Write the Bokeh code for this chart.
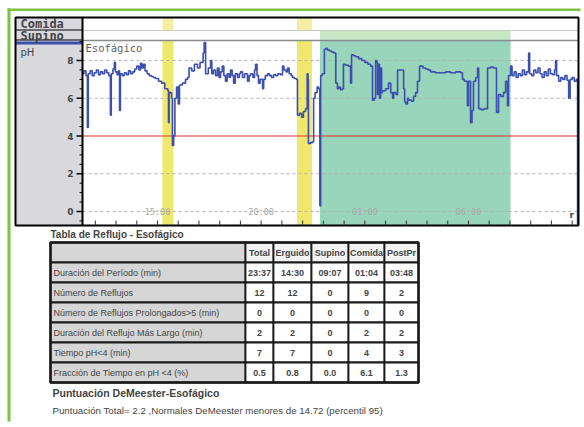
from bokeh.plotting import figure
from bokeh.models import Range1d, Label
from bokeh.embed import file_html
from bokeh.resources import INLINE

# ---------------- data ----------------
ph_time = [11.38, 11.45, 11.55, 11.62, 11.66, 11.75, 11.85, 11.95, 12.05, 12.15, 12.25, 12.35, 12.45,
           12.55, 12.65, 12.73, 12.77, 12.85, 12.92, 12.97, 13.05, 13.12, 13.17, 13.21, 13.30, 13.40,
           13.50, 13.60, 13.70, 13.80, 13.90, 14.00, 14.10, 14.18, 14.25, 14.32, 14.40, 14.50, 14.60,
           14.70, 14.80, 14.90, 15.05, 15.20, 15.35, 15.50, 15.53, 15.56, 15.68, 15.72, 15.78, 15.84,
           15.92, 16.00, 16.06, 16.20, 16.35, 16.45, 16.52, 16.65, 16.78, 16.93, 17.05, 17.20, 17.25,
           17.32, 17.45, 17.56, 17.62, 17.70, 17.80, 17.89, 17.97, 18.04, 18.12, 18.20, 18.28, 18.36,
           18.45, 18.52, 18.60, 18.67, 18.75, 18.86, 18.95, 19.00, 19.10, 19.20, 19.34, 19.42, 19.49,
           19.60, 19.68, 19.73, 19.80, 19.87, 19.95, 20.07, 20.12, 20.20, 20.31, 20.40, 20.50, 20.60,
           20.70, 20.80, 20.93, 21.03, 21.10, 21.20, 21.27, 21.35, 21.45, 21.51, 21.60, 21.70, 21.75,
           21.85, 21.95, 22.04, 22.14, 22.22, 22.26, 22.28, 22.38, 22.48, 22.53, 22.60, 22.70, 22.77,
           22.83, 22.87, 22.95, 23.05, 23.12, 23.20, 23.30, 23.40, 23.50, 23.60, 23.68, 23.75, 23.83,
           23.92, 23.97, 24.07, 24.20, 24.31, 24.36, 24.45, 24.55, 24.70, 24.85, 25.00, 25.15, 25.28,
           25.37, 25.45, 25.52, 25.58, 25.61, 25.66, 25.71, 25.76, 25.81, 25.85, 26.00, 26.14, 26.25,
           26.34, 26.39, 26.50, 26.58, 26.72, 26.87, 26.92, 26.98, 27.06, 27.11, 27.25, 27.35, 27.45,
           27.54, 27.64, 27.80, 27.93, 28.05, 28.17, 28.40, 28.65, 28.90, 29.13, 29.38, 29.62, 29.71,
           29.80, 29.95, 30.00, 30.10, 30.17, 30.24, 30.35, 30.44, 30.49, 30.60, 30.75, 30.92, 31.06,
           31.20, 31.35, 31.45, 31.55, 31.69, 31.79, 31.88, 31.93, 32.03, 32.10, 32.20, 32.30, 32.40,
           32.50, 32.60, 32.70, 32.80, 32.90, 32.95, 33.05, 33.15, 33.25, 33.35, 33.45, 33.55, 33.65,
           33.75, 33.85, 33.95, 34.05, 34.15, 34.20, 34.25, 34.35, 34.45, 34.55, 34.65, 34.75, 34.83,
           34.90, 35.00, 35.10, 35.20, 35.26]
ph_value = [7.3, 7.45, 7.2, 4.45, 7.3, 7.45, 7.2, 7.35, 7.5, 7.25, 7.4, 7.3, 7.5,
            7.35, 7.2, 5.1, 7.3, 7.55, 7.9, 7.4, 7.25, 7.45, 5.35, 7.3, 7.2, 7.35,
            7.25, 7.45, 7.3, 7.4, 7.55, 7.7, 7.5, 7.85, 7.6, 7.8, 7.45, 7.3, 7.2,
            7.15, 7.1, 7.05, 6.9, 6.8, 6.5, 6.4, 4.7, 6.3, 6.0, 3.5, 4.0, 6.0,
            6.6, 5.7, 6.7, 6.8, 7.0, 7.1, 7.6, 7.45, 7.8, 7.6, 7.9, 8.4, 8.95,
            7.3, 7.6, 8.0, 7.3, 7.5, 7.2, 7.6, 7.1, 7.4, 7.7, 7.2, 6.9, 7.3,
            7.1, 7.5, 7.2, 6.8, 7.3, 7.1, 7.3, 7.4, 7.1, 7.3, 6.9, 7.2, 7.3,
            7.1, 7.5, 7.8, 7.2, 6.8, 7.0, 6.5, 7.0, 7.2, 7.3, 7.2, 7.1, 7.25,
            7.2, 7.3, 7.25, 7.7, 7.5, 7.4, 7.6, 7.3, 7.2, 7.1, 7.05, 7.0, 5.1,
            5.2, 5.0, 5.3, 5.45, 7.3, 7.0, 3.6, 3.65, 3.7, 6.0, 6.3, 6.6, 6.5,
            0.3, 7.2, 7.3, 8.6, 8.65, 8.55, 8.5, 8.45, 8.4, 6.8, 6.5, 6.6, 6.45,
            6.5, 7.8, 7.75, 7.7, 6.8, 8.3, 8.25, 8.2, 8.1, 8.0, 7.9, 7.8, 7.7,
            5.9, 6.0, 8.0, 7.9, 6.2, 7.8, 6.0, 7.6, 6.3, 6.4, 6.5, 6.8, 6.3,
            6.0, 6.3, 6.2, 7.5, 7.5, 6.5, 5.8, 5.7, 6.0, 5.9, 5.85, 6.1, 6.3,
            6.9, 7.7, 7.6, 7.55, 7.5, 7.4, 7.35, 7.35, 7.4, 7.35, 7.4, 7.35, 7.0,
            6.9, 5.6, 6.9, 4.7, 5.35, 6.9, 7.1, 7.6, 5.45, 5.4, 5.45, 7.6, 7.65,
            7.6, 5.25, 6.2, 6.1, 6.3, 6.9, 5.6, 7.2, 7.7, 7.2, 7.4, 7.1, 7.3,
            7.2, 7.5, 7.25, 7.4, 8.4, 7.3, 7.2, 7.5, 7.35, 7.6, 7.3, 7.1, 7.4,
            7.2, 7.55, 7.3, 7.25, 7.5, 8.0, 7.2, 6.9, 7.1, 7.0, 7.2, 6.95, 6.0,
            7.0, 7.1, 6.9, 7.0, -0.7]

meal_start = [15.24, 21.73]
meal_end = [15.77, 22.45]
supine_start = [22.84]
supine_end = [32.03]
acid_threshold = 4
ph_ticks = [0, 2, 4, 6, 8]
ph_minor_ticks = [-0.5, 0.5, 1, 1.5, 2.5, 3, 3.5, 4.5, 5, 5.5, 6.5, 7, 7.5, 8.5, 9]
grid_ticks = [0, 2, 6, 8]
hour_ticks = [12, 13, 14, 15, 16, 17, 18, 19, 20, 21, 22, 23, 24, 25, 26, 27, 28, 29, 30,
              31, 32, 33, 34, 35]
time_label_hours = [15, 20, 25, 30]
time_labels = ["15:00", "20:00", "01:00", "06:00"]

table_title = "Tabla de Reflujo - Esofágico"
col_labels = ["Total", "Erguido", "Supino", "Comida", "PostPr"]
row_labels = ["Duración del Período (min)", "Número de Reflujos",
              "Número de Reflujos Prolongados>5   (min)", "Duración del Reflujo Más Largo (min)",
              "Tiempo pH<4  (min)", "Fracción de Tiempo en pH <4  (%)"]
total_vals = ["23:37", "12", "0", "2", "7", "0.5"]
erguido_vals = ["14:30", "12", "0", "2", "7", "0.8"]
supino_vals = ["09:07", "0", "0", "0", "0", "0.0"]
comida_vals = ["01:04", "9", "0", "2", "4", "6.1"]
postpr_vals = ["03:48", "2", "0", "2", "3", "1.3"]
score_title = "Puntuación DeMeester-Esofágico"
score_text = "Puntuación Total= 2.2 ,Normales DeMeester menores de 14.72 (percentil 95)"

# ---------------- layout constants (page pixels) ----------------
W, H = 584, 427
PX_PER_H = 20.733
PX_PER_PH = 18.875
HOUR_REF, HOUR_REF_X = 15, 157     # 15:00 sits at x=157
PH0_Y = 211                        # pH 0 sits at y=211
BOX_L, BOX_R, BOX_T, BOX_B = 15, 578, 17, 225
PLOT_L = 82
ROW_SPLIT_Y, PLOT_TOP_Y = 30, 40


def hour_at(px):
    return HOUR_REF + (px - HOUR_REF_X) / PX_PER_H


def ph_at(py):
    return (PH0_Y - py) / PX_PER_PH


GREEN_FRAME = "#7dc243"
PANEL = "#d9d9dd"
TRACE = "#3b4fb0"
YELLOW = "#efe86c"
YELLOW_PALE = "#f3eea4"
GREEN_BAND = "#98d5ba"
GREEN_PALE = "#c6e6c4"
FONT = "Liberation Sans"

p = figure(width=W, height=H, x_range=Range1d(hour_at(0), hour_at(W)),
           y_range=Range1d(ph_at(H), ph_at(0)),
           x_axis_location=None, y_axis_location=None,
           output_backend="svg", toolbar_location=None, min_border=0,
           outline_line_color=None, background_fill_color="white", border_fill_color="white")
p.grid.visible = False
p.extra_x_ranges = {"px": Range1d(0, W)}
p.extra_y_ranges = {"px": Range1d(H, 0)}
PX = dict(x_range_name="px", y_range_name="px")

# green page frame
p.quad(left=[7, 7], right=[10, 580], top=[8, 8], bottom=[421, 10.5], fill_color=GREEN_FRAME,
       line_color=None, **PX)

# left grey panel
p.quad(left=[BOX_L], right=[PLOT_L], top=[BOX_T], bottom=[BOX_B], fill_color=PANEL, line_color=None, **PX)

# bands (data)
yb, yt, ys = ph_at(BOX_B), ph_at(PLOT_TOP_Y), ph_at(ROW_SPLIT_Y)
p.quad(left=meal_start, right=meal_end, bottom=yb, top=yt, fill_color=YELLOW, line_color=None)
p.quad(left=meal_start, right=meal_end, bottom=ys, top=ph_at(BOX_T), fill_color=YELLOW_PALE, line_color=None)
p.quad(left=supine_start, right=supine_end, bottom=yb, top=yt, fill_color=GREEN_BAND, line_color=None)
p.quad(left=supine_start, right=supine_end, bottom=yt, top=ys, fill_color=GREEN_PALE, line_color=None)

# grid, threshold and row lines
p.segment(x0=PLOT_L, x1=BOX_R, y0=grid_ticks, y1=grid_ticks, line_color="#b4b4b4",
          line_dash="3 3", line_width=1, x_range_name="px")
p.segment(x0=[PLOT_L], x1=[BOX_R], y0=[acid_threshold], y1=[acid_threshold], line_color="#e0302a",
          line_width=1.2, x_range_name="px")
p.segment(x0=[PLOT_L], x1=[BOX_R], y0=[ROW_SPLIT_Y], y1=[ROW_SPLIT_Y], line_color="#c8c8c8",
          line_width=1, **PX)
p.segment(x0=[PLOT_L], x1=[BOX_R], y0=[PLOT_TOP_Y], y1=[PLOT_TOP_Y], line_color="#8c8c8c",
          line_width=1.5, **PX)
p.segment(x0=[BOX_L, BOX_L], x1=[PLOT_L, PLOT_L], y0=[ROW_SPLIT_Y - 0.5, PLOT_TOP_Y - 0.5],
          y1=[ROW_SPLIT_Y - 0.5, PLOT_TOP_Y - 0.5], line_color="black", line_width=1.2, **PX)
p.quad(left=[BOX_L], right=[PLOT_L], top=[41], bottom=[44], fill_color=TRACE, line_color=None, **PX)

# trace
p.step(ph_time, ph_value, mode="after", line_color=TRACE, line_width=1.6)

# chart box + y axis line
p.quad(left=[BOX_L], right=[BOX_R], top=[BOX_T], bottom=[BOX_B], fill_color=None,
       line_color="black", line_width=2, **PX)
p.segment(x0=[PLOT_L], x1=[PLOT_L], y0=[BOX_T], y1=[BOX_B], line_color="black", line_width=2, **PX)

# y ticks
p.segment(x0=PLOT_L - 6, x1=PLOT_L, y0=ph_ticks, y1=ph_ticks, line_color="black", line_width=1.5,
          x_range_name="px")
p.segment(x0=PLOT_L - 3, x1=PLOT_L, y0=ph_minor_ticks, y1=ph_minor_ticks, line_color="black",
          line_width=1, x_range_name="px")
for t in ph_ticks:
    p.add_layout(Label(x=PLOT_L - 9, y=t, x_range_name="px", text=str(t), text_font="DejaVu Sans",
                       text_font_style="bold", text_font_size="9px", text_align="right",
                       text_baseline="middle"))

# x ticks (inside, at the bottom)
p.segment(x0=hour_ticks, x1=hour_ticks, y0=BOX_B, y1=BOX_B - 5, line_color="#333333", line_width=1,
          y_range_name="px")
for hh, lab in zip(time_label_hours, time_labels):
    p.add_layout(Label(x=hh, y=0, text=lab, text_font="DejaVu Sans Mono", text_font_size="8.5px",
                       text_color="#a8a8a8", text_align="center", text_baseline="middle"))

# panel texts
for txt, yy in (("Comida", 23.5), ("Supino", 35)):
    p.add_layout(Label(x=20, y=yy, text=txt, text_font="DejaVu Sans Mono", text_font_style="bold",
                       text_font_size="12px", text_baseline="middle", **PX))
p.add_layout(Label(x=20, y=52, text="pH", text_font="DejaVu Sans", text_font_size="10px",
                   text_baseline="middle", **PX))
p.add_layout(Label(x=85, y=47, text="Esofágico", text_font="DejaVu Sans Mono", text_font_size="10.5px",
                   text_color="#606060", text_baseline="middle", **PX))
p.add_layout(Label(x=569, y=214, text="r", text_font="DejaVu Sans", text_font_size="9px",
                   text_font_style="bold", text_baseline="middle", **PX))

# ---------------- table ----------------
col_edges = [50, 245, 273, 311, 348, 384, 418]
row_edges = [242, 262, 282, 302, 322, 342, 362, 382]
columns = [total_vals, erguido_vals, supino_vals, comida_vals, postpr_vals]

lefts, rights, tops, bottoms, fills = [], [], [], [], []
for i in range(len(row_edges) - 1):
    for j in range(len(col_edges) - 1):
        lefts.append(col_edges[j]); rights.append(col_edges[j + 1])
        tops.append(row_edges[i]); bottoms.append(row_edges[i + 1])
        if j == 0:
            fills.append("#d6d6d6")
        elif i == 0:
            fills.append("#f2f2f2")
        else:
            fills.append("white")
p.quad(left=lefts, right=rights, top=tops, bottom=bottoms, fill_color=fills,
       line_color="#1a1a1a", line_width=1.8, **PX)
p.quad(left=[col_edges[0]], right=[col_edges[-1]], top=[row_edges[0]], bottom=[row_edges[-1]],
       fill_color=None, line_color="#1a1a1a", line_width=2.5, **PX)


def cell_label(x, y, text, bold=False, align="center", size="9px"):
    p.add_layout(Label(x=x, y=y, text=text, text_font=FONT, text_font_size=size,
                       text_font_style="bold" if bold else "normal", text_align=align,
                       text_baseline="middle", **PX))


for j, lab in enumerate(col_labels):
    cell_label((col_edges[j + 1] + col_edges[j + 2]) / 2, (row_edges[0] + row_edges[1]) / 2, lab, bold=True)
for j, col in enumerate(columns):
    for i, v in enumerate(col):
        cell_label((col_edges[j + 1] + col_edges[j + 2]) / 2, (row_edges[i + 1] + row_edges[i + 2]) / 2,
                   v, bold=True)
for i, lab in enumerate(row_labels):
    cell_label(col_edges[0] + 3, (row_edges[i + 1] + row_edges[i + 2]) / 2, lab, align="left")

cell_label(50, 234, table_title, bold=True, align="left", size="10px")
cell_label(52, 392, score_title, bold=True, align="left", size="10.5px")
cell_label(52, 410, score_text, align="left", size="9.7px")

open("out.html", "w").write(file_html(p, INLINE))
